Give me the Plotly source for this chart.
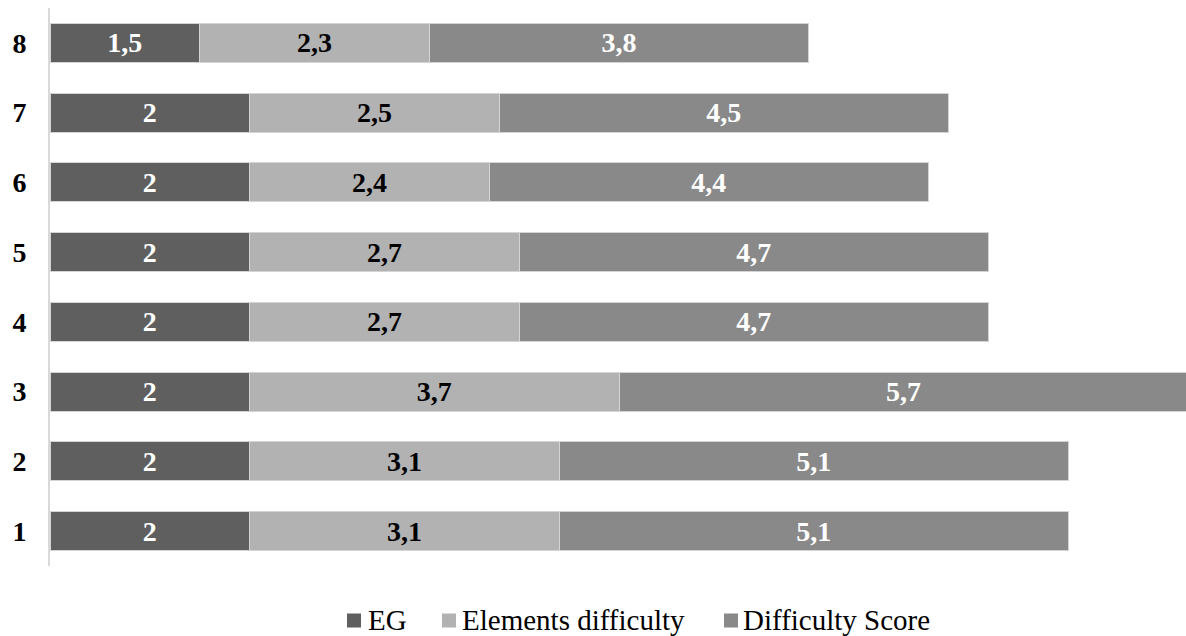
import plotly.graph_objects as go

# Stacked horizontal bars: one row per item, three score components
categories = ["1", "2", "3", "4", "5", "6", "7", "8"]
eg = [2, 2, 2, 2, 2, 2, 2, 1.5]
elements_difficulty = [3.1, 3.1, 3.7, 2.7, 2.7, 2.4, 2.5, 2.3]
difficulty_score = [5.1, 5.1, 5.7, 4.7, 4.7, 4.4, 4.5, 3.8]

series_names = ["EG", "Elements difficulty", "Difficulty Score"]
series_values = [eg, elements_difficulty, difficulty_score]
series_colors = ["#5f5f5f", "#b2b2b2", "#898989"]
label_colors = ["white", "black", "white"]

FONT = "Liberation Serif, Times New Roman, serif"

W, H = 1186, 636
M_L, M_R, M_T, M_B = 50, 0, 8, 70
PLOT_W = W - M_L - M_R
PLOT_H = H - M_T - M_B


def fmt(v):
    return f"{v:g}".replace(".", ",")


def px_to_paper(px, py):
    return (px - M_L) / PLOT_W, (H - M_B - py) / PLOT_H


fig = go.Figure()
for name, vals, color, txtcolor in zip(series_names, series_values,
                                       series_colors, label_colors):
    fig.add_trace(go.Bar(
        y=categories,
        x=vals,
        name=name,
        orientation="h",
        marker=dict(color=color, line=dict(color="#d4d4d4", width=1)),
        text=[fmt(v) for v in vals],
        textposition="inside",
        insidetextanchor="middle",
        textangle=0,
        constraintext="none",
        textfont=dict(family=FONT, size=28, color=txtcolor, weight="bold"),
        width=0.56,
        showlegend=False,
    ))

# Legend row beneath the plot: a small swatch followed by the series name
legend_swatch_left = [347, 442, 724]
legend_text_left = [367, 461, 742]
legend_y = 620.5
swatch = 14
shapes, annotations = [], []
for name, color, sx, tx in zip(series_names, series_colors,
                               legend_swatch_left, legend_text_left):
    x0, y0 = px_to_paper(sx, legend_y + swatch / 2)
    x1, y1 = px_to_paper(sx + swatch, legend_y - swatch / 2)
    shapes.append(dict(type="rect", xref="paper", yref="paper",
                       x0=x0, x1=x1, y0=y0, y1=y1,
                       fillcolor=color, line=dict(width=0)))
    ax, ay = px_to_paper(tx, legend_y - 1)
    annotations.append(dict(xref="paper", yref="paper", x=ax, y=ay,
                            xanchor="left", yanchor="middle",
                            text=name, showarrow=False,
                            font=dict(family=FONT, size=29, color="black"),
                            borderpad=0))

fig.update_layout(
    barmode="stack",
    width=W,
    height=H,
    margin=dict(l=M_L, r=M_R, t=M_T, b=M_B),
    paper_bgcolor="white",
    plot_bgcolor="white",
    font=dict(family=FONT, size=28, color="black"),
    showlegend=False,
    shapes=shapes,
    annotations=annotations,
    xaxis=dict(
        range=[0, 11.38],
        visible=False,
        showgrid=False,
        zeroline=False,
    ),
    yaxis=dict(
        showline=True,
        linecolor="#d9d9d9",
        linewidth=2,
        showgrid=False,
        zeroline=False,
        ticks="",
        ticklabelstandoff=16,
        tickfont=dict(family=FONT, size=28, color="black", weight="bold"),
    ),
)

fig.write_html("out.html")
